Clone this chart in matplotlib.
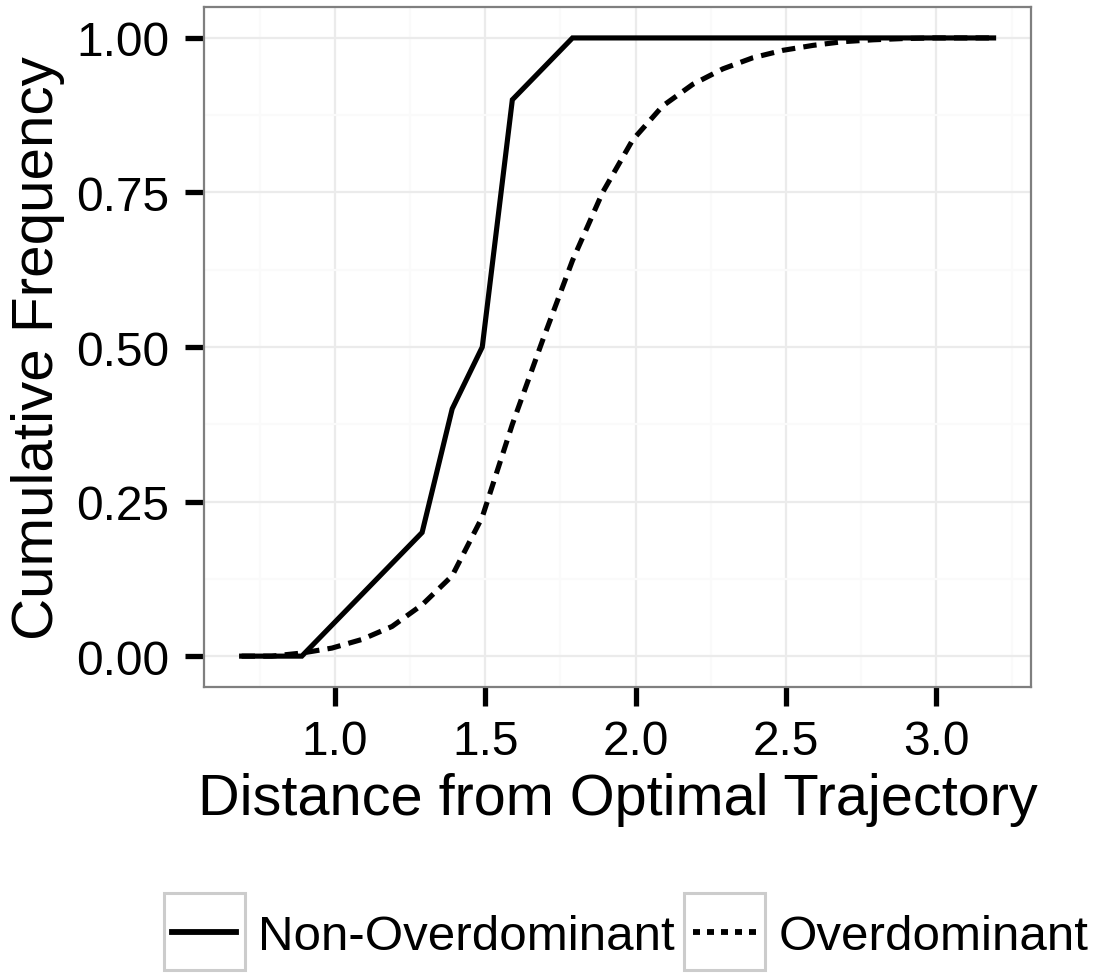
"""
Cumulative frequency of distance from the optimal trajectory
"""

# Import packages
import matplotlib
matplotlib.use("Agg")
import matplotlib.pyplot as plt
from matplotlib.lines import Line2D
from matplotlib.patches import Rectangle
from matplotlib.transforms import IdentityTransform

plt.rcParams['font.family'] = ['Liberation Sans', 'DejaVu Sans']

# Data
non_over_x = [0.69, 0.89, 1.29, 1.39, 1.49, 1.59, 1.79, 3.19]
non_over_y = [0.00, 0.00, 0.20, 0.40, 0.50, 0.90, 1.00, 1.00]

over_x = [0.69, 0.79, 0.89, 0.99, 1.09, 1.19, 1.29, 1.39, 1.49, 1.59,
          1.69, 1.79, 1.89, 1.99, 2.09, 2.19, 2.29, 2.39, 2.49, 2.59,
          2.69, 2.79, 2.89, 2.99, 3.09, 3.19]
over_y = [0.000, 0.000, 0.005, 0.013, 0.027, 0.048, 0.083, 0.130, 0.225, 0.375,
          0.510, 0.640, 0.750, 0.835, 0.890, 0.925, 0.950, 0.968, 0.980, 0.988,
          0.994, 0.997, 0.999, 1.000, 1.000, 1.000]

labels = ["Non-Overdominant", "Overdominant"]
x_ticks = [1.0, 1.5, 2.0, 2.5, 3.0]
x_ticklabels = ["1.0", "1.5", "2.0", "2.5", "3.0"]
y_ticks = [0.0, 0.25, 0.5, 0.75, 1.0]
y_ticklabels = ["0.00", "0.25", "0.50", "0.75", "1.00"]

# Figure and panel
fig = plt.figure(figsize=(10.97, 9.79), dpi=100)
ax = fig.add_axes([0.186, 0.2972, 0.754, 0.6946])

lw = 3.7
dash = (2.6, 1.6)
ax.plot(non_over_x, non_over_y, color='black', lw=lw, solid_joinstyle='miter', zorder=3)
ax.plot(over_x, over_y, color='black', lw=lw, linestyle=(0, dash), zorder=3)

# ggplot theme_bw look
ax.set_xlim(0.565, 3.315)
ax.set_ylim(-0.05, 1.05)
ax.set_xticks(x_ticks)
ax.set_xticklabels(x_ticklabels)
ax.set_yticks(y_ticks)
ax.set_yticklabels(y_ticklabels)
ax.set_xticks([0.75, 1.25, 1.75, 2.25, 2.75, 3.25], minor=True)
ax.set_yticks([0.125, 0.375, 0.625, 0.875], minor=True)
ax.grid(which='major', color='#EBEBEB', lw=1.6)
ax.grid(which='minor', color='#FAFAFA', lw=1.6)
ax.set_axisbelow(True)
for side in ax.spines.values():
    side.set_color('#7F7F7F')
    side.set_linewidth(1.6)
ax.tick_params(which='major', length=14, width=3.8, color='black',
               labelsize=34.5)
ax.tick_params(axis='y', pad=11)
ax.tick_params(axis='x', pad=9)
ax.tick_params(which='minor', length=0)

ax.set_xlabel("Distance from Optimal Trajectory", fontsize=41.5, labelpad=6)
ax.set_ylabel("Cumulative Frequency", fontsize=42, labelpad=8)

# Legend below the plot
handles = [Line2D([], [], color='black', lw=4.2),
           Line2D([], [], color='black', lw=4.2, linestyle=(0, (1.2, 1.2)))]
leg = fig.legend(handles, labels, loc='center', bbox_to_anchor=(0.5745, 0.0424),
                 ncol=2, frameon=False, fontsize=35.5, handlelength=1.3,
                 handletextpad=0.44, columnspacing=0.37)

# grey boxes round the legend keys
fig.canvas.draw()
renderer = fig.canvas.get_renderer()
for line in leg.get_lines():
    bb = line.get_window_extent(renderer)
    cx = (bb.x0 + bb.x1) / 2
    cy = (bb.y0 + bb.y1) / 2
    box = Rectangle((cx - 40.5, cy - 38.5), 81, 77, transform=IdentityTransform(),
                    facecolor='white', edgecolor='#CCCCCC', lw=2.2, zorder=0)
    fig.patches.append(box)

fig.savefig("out.png", dpi=100)
